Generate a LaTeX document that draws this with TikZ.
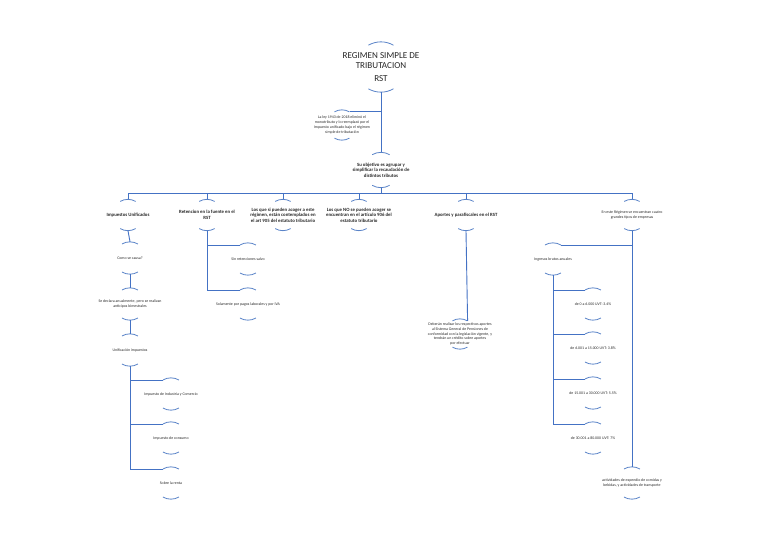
\documentclass[tikz,border=0pt]{standalone}
\usepackage{fontspec}
\setmainfont{Carlito}
\usepackage{xcolor}
\usepackage{tikz}
\usetikzlibrary{arrows.meta,positioning,calc}

\definecolor{lineblue}{HTML}{4472C4}
\definecolor{arcblue}{HTML}{5B84C8}

\begin{document}
\begin{tikzpicture}[
  x=0.3867mm, y=-0.3867mm,
  every node/.style={font=\fontsize{4.3}{5.3}\selectfont},
  ring/.style={circle, minimum size=30, inner sep=0pt},
  txt/.style={align=center, inner sep=0pt, text=black!85},
  bold/.style={font=\fontsize{5.3}{6.1}\selectfont\bfseries},
  arcline/.style={draw=arcblue, line width=0.9pt},
  link/.style={draw=lineblue, line width=1pt},
]
\useasboundingbox (0,0) rectangle (768,542);

%% Circle with only top and bottom arcs, text in the middle
\newcommand{\rstnode}[5][]{%
  \node[ring, minimum size=2*#4*0.3867mm] (#2) at (#3) {};
  \node[txt, #1] at (#2) {#5};
  \draw[arcline] (#2.120) arc[start angle=120, end angle=60, radius=#4*0.3867mm];
  \draw[arcline] (#2.240) arc[start angle=240, end angle=300, radius=#4*0.3867mm];
}

%% Top
\rstnode[font=\fontsize{10}{10.5}\selectfont]{title}{381,67}{25}
  {REGIMEN SIMPLE DE\\TRIBUTACION\\[4pt]RST}
\rstnode{ley}{342,125}{15}
  {La ley 1943 de 2018 eliminó el\\monotributo y lo reemplazó por el\\Impuesto unificado bajo el régimen\\simple de tributación}
\rstnode[bold]{obj}{381,170}{17.5}
  {Su objetivo es agrupar y\\simplificar la recaudación de\\distintos tributos}

%% Second level
\rstnode[bold]{imp}{128,215}{15.5}{Impuestos Unificados}
\rstnode[bold]{ret}{207,215}{15.5}{Retencion en la fuente en el\\RST}
\rstnode[bold]{si}{283,215}{15.5}
  {Los que si pueden acoger a este\\régimen, están contemplados en\\el art 905 del estatuto tributario}
\rstnode[bold]{no}{359,215}{15.5}
  {Los que NO se pueden acoger se\\encuentran en el artículo 906 del\\estatuto tributario}
\rstnode[bold]{apo}{466,215}{15.5}{Aportes y parafiscales en el RST}
\rstnode{tipos}{632,215}{15.5}
  {En este Régimen se encuentran cuatro\\grandes tipos de empresas}

%% Impuestos unificados
\rstnode{causa}{130,258}{16}{Como se causa?}
\rstnode{decl}{130,304}{16}
  {Se declara anualmente, pero se realizan\\anticipos bimestrales}
\rstnode{unif}{130,350}{16}{Unificación impuestos}
\rstnode{ica}{171,394}{16}{Impuesto de Industria y Comercio}
\rstnode{cons}{171,438}{16}{Impuesto de consumo}
\rstnode{renta}{171,483}{16}{Sobre la renta}

%% Retencion
\rstnode{sr}{248,259}{16}{Sin retenciones salvo}
\rstnode{pagos}{248,304}{16}{Solamente por pagos laborales y por IVA}

%% Aportes
\rstnode{deb}{460,334}{15}
  {Deberán realizar los respectivos aportes\\al Sistema General de Pensiones de\\conformidad con la legislación vigente, y\\tendrán un crédito sobre aportes\\por efectuar}

%% Tipos de empresas
\rstnode{ing}{553,259}{16}{Ingresos brutos anuales}
\rstnode{t1}{593,304}{16}{de 0 a 6.000 UVT: 3.4\%}
\rstnode{t2}{593,348}{16}{de 6.001 a 15.000 UVT: 3.8\%}
\rstnode{t3}{593,393}{16}{de 15.001 a 30.000 UVT: 5.5\%}
\rstnode{t4}{593,438}{16}{de 30.001 a 80.000 UVT: 7\%}
\rstnode{act}{632,483}{16}
  {actividades de expendio de comidas y\\bebidas, y actividades de transporte}

%% Connectors
\draw[link] (title.south) -- (obj.north);
\draw[link] (ley.60) -- (ley.60 -| title.south);
\coordinate (bus) at (381,193);
\foreach \n in {imp,ret,si,no,apo,tipos}
  \draw[link] (obj.south) -- (bus) -| (\n.north);

\draw[link] (imp.south) -- (causa.north);
\draw[link] (causa.south) -- (decl.north);
\draw[link] (decl.south) -- (unif.north);
\foreach \n in {ica,cons,renta}
  \draw[link] (unif.south) |- (\n.120);

\foreach \n in {sr,pagos}
  \draw[link] (ret.south) |- (\n.120);

\draw[link] (apo.south) -- (deb.60);

\draw[link] (tipos.south) -- (act.north);
\draw[link] (tipos.south) |- (ing.60);
\foreach \n in {t1,t2,t3,t4}
  \draw[link] (ing.south) |- (\n.120);

\end{tikzpicture}
\end{document}
